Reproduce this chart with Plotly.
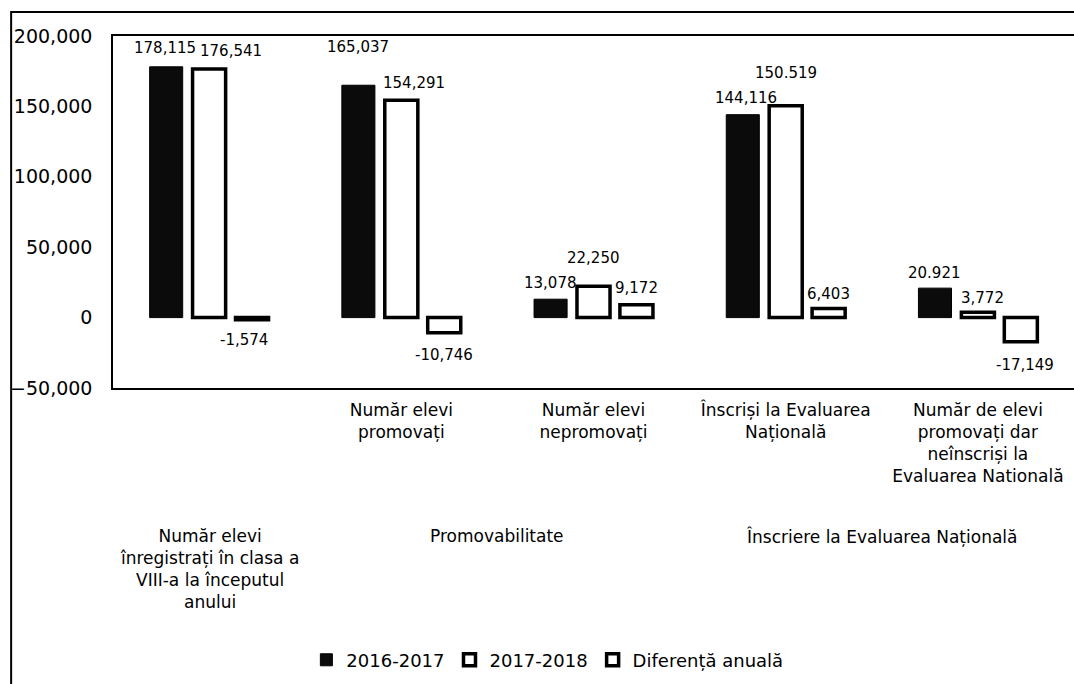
import plotly.graph_objects as go

# ---------------- data ----------------
categories = [
    "Număr elevi înregistrați în clasa a VIII-a la începutul anului",
    "Număr elevi promovați",
    "Număr elevi nepromovați",
    "Înscriși la Evaluarea Națională",
    "Număr de elevi promovați dar neînscriși la Evaluarea Natională",
]
tick_labels = [
    "",
    "Număr elevi<br>promovați",
    "Număr elevi<br>nepromovați",
    "Înscriși la Evaluarea<br>Națională",
    "Număr de elevi<br>promovați dar<br>neînscriși la<br>Evaluarea Natională",
]
group_labels = [
    "Număr elevi<br>înregistrați în clasa a<br>VIII-a la începutul<br>anului",
    "Promovabilitate",
    "Înscriere la Evaluarea Națională",
]
series_names = ["2016-2017", "2017-2018", "Diferență anuală"]
values_2016 = [178115, 165037, 13078, 144116, 20921]
values_2017 = [176541, 154291, 22250, 150519, 3772]
values_diff = [-1574, -10746, 9172, 6403, -17149]
labels_2016 = ["178,115", "165,037", "13,078", "144,116", "20.921"]
labels_2017 = ["176,541", "154,291", "22,250", "150.519", "3,772"]
labels_diff = ["-1,574", "-10,746", "9,172", "6,403", "-17,149"]
y_ticks = [-50000, 0, 50000, 100000, 150000, 200000]

# ---------------- styling ----------------
FONT = "DejaVu Sans, Verdana, sans-serif"
BARGAP = 0.33
GROUPGAP = 0.23
group_label_pos = [0, 1.5, 3.5]  # category index of group label centres
# pixel nudges for data labels (xshift, yshift magnitude)
nudge_2016 = [(-1, 19), (0, 38), (0, 16), (3, 17), (0, 15)]
nudge_2017 = [(22, 18), (13, 17), (0, 28), (0, 33), (5, 14)]
nudge_diff = [(-8, 20), (0, 22), (0, 17), (0, 15), (4, 23)]

fig = go.Figure()
fig.add_trace(go.Bar(
    name=series_names[0], x=categories, y=values_2016,
    marker=dict(color="#0b0b0b", line=dict(color="#000000", width=1)),
))
fig.add_trace(go.Bar(
    name=series_names[1], x=categories, y=values_2017,
    marker=dict(color="#ffffff", line=dict(color="#000000", width=3.5)),
))
fig.add_trace(go.Bar(
    name=series_names[2], x=categories, y=values_diff,
    marker=dict(color="#ffffff", line=dict(color="#000000", width=3.5)),
))

slot = (1 - BARGAP) / 3
annotations = []
for j, (vals, labs, nud) in enumerate([
    (values_2016, labels_2016, nudge_2016),
    (values_2017, labels_2017, nudge_2017),
    (values_diff, labels_diff, nudge_diff),
]):
    for i, (v, t, (dx, dy)) in enumerate(zip(vals, labs, nud)):
        annotations.append(dict(
            x=i + (j - 1) * slot, y=v, xref="x", yref="y",
            text=t, showarrow=False, xanchor="center", yanchor="middle",
            xshift=dx, yshift=dy if v >= 0 else -dy,
            font=dict(family=FONT, size=15, color="#000000"),
        ))

for pos, txt in zip(group_label_pos, group_labels):
    annotations.append(dict(
        x=pos, y=-0.385, xref="x", yref="paper", text=txt,
        showarrow=False, xanchor="center", yanchor="top", align="center",
        font=dict(family=FONT, size=17, color="#000000"),
    ))

fig.update_layout(
    width=1074, height=684,
    margin=dict(l=113, r=0, t=36, b=296),
    paper_bgcolor="#ffffff", plot_bgcolor="#ffffff",
    barmode="group", bargap=BARGAP, bargroupgap=GROUPGAP,
    font=dict(family=FONT, color="#000000"),
    showlegend=True,
    legend=dict(
        orientation="h", x=0.452, xanchor="center", y=-0.773, yanchor="middle",
        font=dict(family=FONT, size=18, color="#000000"),
        itemwidth=30,
    ),
    annotations=annotations,
    shapes=[dict(
        type="rect", xref="paper", yref="paper",
        x0=-0.106, x1=1.05, y0=-1.2, y1=1.068,
        line=dict(color="#000000", width=2), fillcolor="rgba(0,0,0,0)",
        layer="below",
    )],
)
fig.update_xaxes(
    type="category", tickmode="array", tickvals=categories, ticktext=tick_labels,
    showline=True, mirror=True, linecolor="#000000", linewidth=1.5,
    ticks="", showgrid=False, ticklabelstandoff=6,
    tickfont=dict(family=FONT, size=17, color="#000000"),
)
fig.update_yaxes(
    range=[-50000, 200000], tickvals=y_ticks, tickformat=",",
    showline=True, mirror=False, linecolor="#000000", linewidth=1.5,
    showgrid=False, zeroline=False, ticks="", ticklabelstandoff=15,
    tickfont=dict(family=FONT, size=19, color="#000000"),
)

fig.write_html(
    "out.html",
    config={"displayModeBar": False},
    post_script="document.body.style.margin='0';",
)
